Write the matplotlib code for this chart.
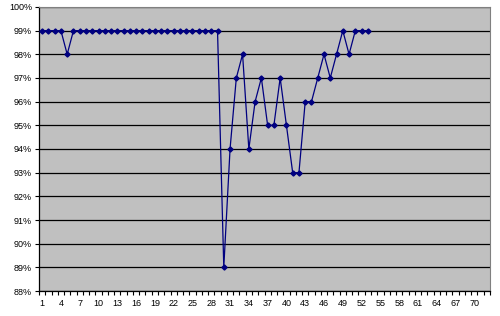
import numpy as np
import matplotlib.pyplot as plt
from matplotlib.ticker import FixedLocator, FuncFormatter

# values (percent), categories 1..53 of 72
runs = list(range(1, 54))
rate = [99, 99, 99, 99, 98, 99, 99, 99, 99, 99,
        99, 99, 99, 99, 99, 99, 99, 99, 99, 99,
        99, 99, 99, 99, 99, 99, 99, 99, 99, 89,
        94, 97, 98, 94, 96, 97, 95, 95, 97, 95,
        93, 93, 96, 96, 97, 98, 97, 98, 99, 98,
        99, 99, 99]
n_categories = 72
label_every = 3

plt.rcParams['font.family'] = ['Liberation Sans', 'DejaVu Sans']

fig = plt.figure(figsize=(5.0, 3.16), dpi=100)
ax = fig.add_axes([0.078, 0.079, 0.902, 0.899])
ax.set_facecolor('#C0C0C0')

ax.plot(runs, rate, color='#000080', lw=0.9, marker='D', markersize=2.6,
        markerfacecolor='#000080', markeredgecolor='#000080', zorder=3)

ax.set_xlim(0.5, n_categories + 0.5)
ax.set_ylim(88, 100)

# y axis
ax.set_yticks(np.arange(88, 101, 1))
ax.yaxis.set_major_formatter(FuncFormatter(lambda v, p: f"{v:.0f}%"))
ax.yaxis.grid(True, color='black', lw=0.9)
ax.set_axisbelow(True)
ax.tick_params(axis='y', length=3, width=0.8, labelsize=6.5, pad=2, color='black')

# x axis: tick marks between categories, labels every 3rd category
ax.xaxis.set_major_locator(FixedLocator(np.arange(0.5, n_categories + 1, 1)))
ax.xaxis.set_major_formatter(FuncFormatter(lambda v, p: ""))
ax.xaxis.set_minor_locator(FixedLocator(np.arange(1, n_categories + 1, label_every)))
ax.xaxis.set_minor_formatter(FuncFormatter(lambda v, p: f"{v:.0f}"))
ax.tick_params(axis='x', which='major', length=3, width=0.8, direction='out', color='black')
ax.tick_params(axis='x', which='minor', length=0, labelsize=6.5, pad=6)

for side in ['top', 'right']:
    ax.spines[side].set_color('#808080')
    ax.spines[side].set_linewidth(0.8)
for side in ['left', 'bottom']:
    ax.spines[side].set_color('black')
    ax.spines[side].set_linewidth(0.9)

fig.savefig('out.png', dpi=100)
